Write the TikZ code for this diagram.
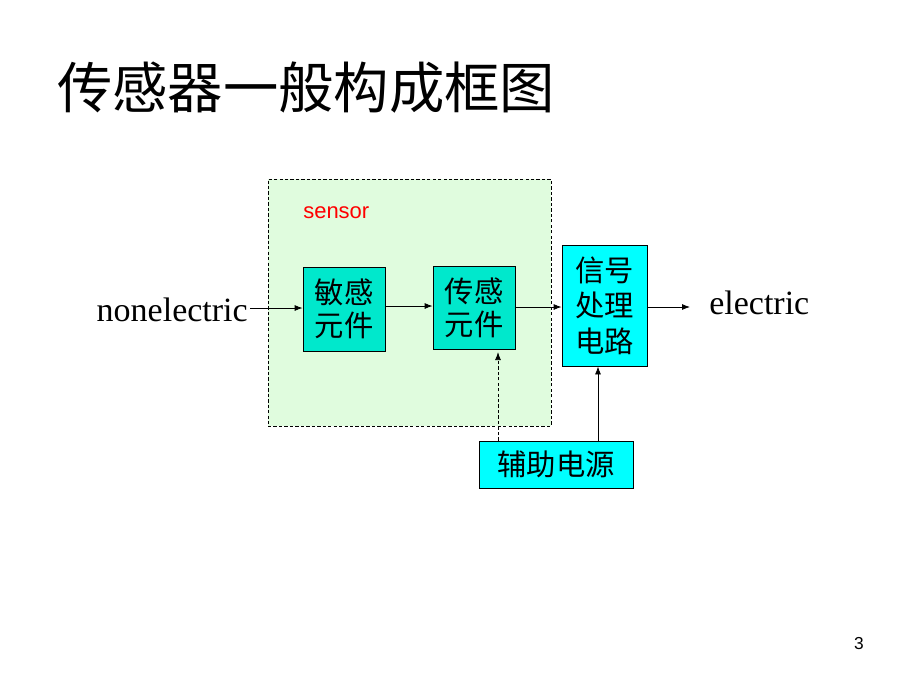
\documentclass[tikz,border=0pt]{standalone}
\usepackage{fontspec}
\setmainfont{Liberation Serif}
\setsansfont{Liberation Sans}
\newfontfamily\cjk{Noto Sans CJK SC}
\usetikzlibrary{fit,arrows.meta}
\definecolor{sensorbg}{RGB}{224,252,222}
\definecolor{turq}{RGB}{0,232,204}
\definecolor{cyanbox}{RGB}{0,255,255}
\tikzset{
  blk/.style={draw=black, line width=0.6pt, inner sep=0pt},
  lbl/.style={inner sep=0pt, align=center, font=\cjk\fontsize{22}{25}\selectfont},
  arr/.style={-{Latex[length=6pt,width=4.5pt]}, line width=0.6pt},
  dsh/.style={dash pattern=on 2.5pt off 1.6pt, line width=0.6pt}
}
\begin{document}
\begin{tikzpicture}[x=0.75pt,y=-0.75pt]
\useasboundingbox[fill=white] (0,0) rectangle (920,690);
\node[anchor=west, font=\cjk\fontsize{41.5}{41.5}\selectfont, inner sep=0pt] (title) at (57,88) {传感器一般构成框图};
\node[fit={(268,179) (551,426)}, inner sep=0pt, fill=sensorbg, draw=black, dsh] (sensorbox) {};
\node[anchor=west, text=red, font=\sffamily\fontsize{16.5}{16.5}\selectfont, inner sep=0pt] (sensorlbl) at (303,213) {sensor};
\node[blk, fill=turq, fit={(303,267) (385,351)}] (b1) {};
\node[lbl] (t1) at (b1.center) {敏感\\元件};
\node[blk, fill=turq, fit={(433,266) (515,349)}] (b2) {};
\node[lbl] (t2) at (b2.center) {传感\\元件};
\node[blk, fill=cyanbox, fit={(562,245) (647,366)}] (b3) {};
\node[lbl, font=\cjk\fontsize{22}{26.5}\selectfont] (t3) at (b3.center) {信号\\处理\\电路};
\node[blk, fill=cyanbox, fit={(479,441) (633,488)}] (b4) {};
\node[lbl] (t4) at (b4.center) {辅助电源};
\node[anchor=east, font=\fontsize{25.5}{25.5}\selectfont, inner sep=0pt] (inp) at (248,310) {nonelectric};
\node[anchor=west, font=\fontsize{25.5}{25.5}\selectfont, inner sep=0pt] (outp) at (709,303) {electric};
\node[font=\sffamily\fontsize{13}{13}\selectfont, inner sep=0pt] (pg) at (859,644) {3};
\coordinate (c1) at (250,308);
\coordinate (c2) at (690,307);
\coordinate (dx) at (498,0);
\coordinate (sx) at (598,0);
\draw[arr] (c1) -- (c1 -| b1.west);
\draw[arr] (b1.east |- 0,306) -- (b2.west |- 0,306);
\draw[arr] (b2.east |- 0,307) -- (b3.west |- 0,307);
\draw[arr] (b3.east |- c2) -- (c2);
\draw[arr, dsh] (b4.north -| dx) -- ([yshift=-2pt]b2.south -| dx);
\draw[arr] (b4.north -| sx) -- (b3.south -| sx);
\end{tikzpicture}
\end{document}
